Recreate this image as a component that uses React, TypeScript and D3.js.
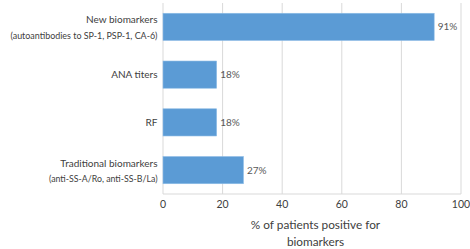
import React from "react";
import * as d3 from "d3";

const categoryLine1 = ["New biomarkers", "ANA titers", "RF", "Traditional biomarkers"];
const categoryLine2 = ["(autoantibodies to SP-1, PSP-1, CA-6)", "", "", "(anti-SS-A/Ro, anti-SS-B/La)"];
const values = [91, 18, 18, 27];
const xTicks = [0, 20, 40, 60, 80, 100];
const axisTitle = ["% of patients positive for", "biomarkers"];

const W = 470;
const H = 249;
const FONT = "Lato, 'Open Sans', sans-serif";
const line2Width = [147, 0, 0, 108.5];

export default function App() {
  const x = d3.scaleLinear().domain([0, 100]).range([163, 461]);
  const y = d3
    .scaleBand<number>()
    .domain(d3.range(values.length))
    .range([3, 194])
    .paddingInner(0.43)
    .paddingOuter(0.215);
  const bw = y.bandwidth();
  const lx = 157.5;

  return (
    <svg
      width={W}
      height={H}
      style={{ position: "absolute", left: 0, top: 0, background: "#fff" }}
      fontFamily={FONT}
    >
      {xTicks.map((t) => (
        <line key={"g" + t} x1={x(t)} x2={x(t)} y1={3} y2={194} stroke="#d9d9d9" strokeWidth={1} />
      ))}
      <line x1={x(0)} x2={x(100)} y1={194} y2={194} stroke="#d9d9d9" strokeWidth={1} />
      {values.map((v, i) => {
        const cy = y(i)! + bw / 2;
        return (
          <g key={"b" + i}>
            <rect
              x={x(0)}
              y={y(i)!}
              width={x(v) - x(0)}
              height={bw}
              fill="#5b9bd5"
              stroke="#8fbde6"
              strokeWidth={0.6}
            />
            <text x={x(v) + 3.5} y={cy} dy="0.35em" fontSize={10} fill="#595959">
              {v + "%"}
            </text>
            {categoryLine2[i] ? (
              <g>
                <text x={lx} y={cy - 3.5} textAnchor="end" fontSize={10} fill="#404040">
                  {categoryLine1[i]}
                </text>
                <text
                  x={lx - line2Width[i]}
                  y={cy + 11.8}
                  fontSize={10}
                  fill="#404040"
                  textLength={line2Width[i]}
                  lengthAdjust="spacingAndGlyphs"
                >
                  {categoryLine2[i]}
                </text>
              </g>
            ) : (
              <text x={lx} y={cy} dy="0.35em" textAnchor="end" fontSize={10} fill="#404040">
                {categoryLine1[i]}
              </text>
            )}
          </g>
        );
      })}
      {xTicks.map((t) => (
        <text key={"t" + t} x={x(t)} y={204} dy="0.35em" textAnchor="middle" fontSize={10.5} fill="#404040">
          {t}
        </text>
      ))}
      {axisTitle.map((s, i) => (
        <text key={"a" + i} x={315.5} y={225 + i * 16.7} dy="0.35em" textAnchor="middle" fontSize={11.8} fill="#404040">
          {s}
        </text>
      ))}
    </svg>
  );
}
